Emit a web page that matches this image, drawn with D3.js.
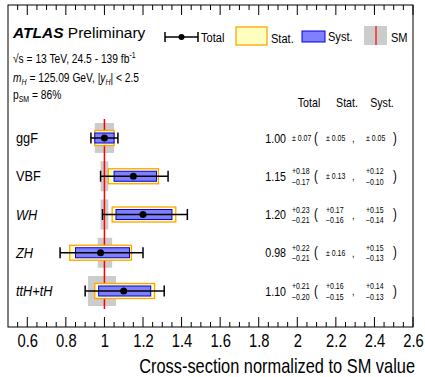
<!DOCTYPE html>
<html><head><meta charset="utf-8">
<script src="https://cdn.jsdelivr.net/npm/d3@7"></script>
<style>body{margin:0;background:#fff}svg{display:block;font-family:"Liberation Sans",Arial,sans-serif}</style>
</head><body><svg id="c" width="425" height="377"></svg>
<script>
const categories = ["ggF","VBF","WH","ZH","ttH+tH"];
const italicCat = [false,false,true,true,true];
const central = [1.00,1.15,1.20,0.98,1.10];
const totUp = [0.07,0.18,0.23,0.22,0.21];
const totDn = [0.07,0.17,0.21,0.21,0.20];
const statUp = [0.05,0.13,0.17,0.16,0.16];
const statDn = [0.05,0.13,0.16,0.16,0.15];
const systUp = [0.05,0.12,0.15,0.15,0.14];
const systDn = [0.05,0.10,0.14,0.13,0.13];
const smUp = [0.05,0.02,0.02,0.04,0.06];
const smDn = [0.05,0.02,0.02,0.035,0.085];
const xTicks = [0.6,0.8,1,1.2,1.4,1.6,1.8,2,2.2,2.4,2.6];

const SX = 0.82; // condensed text factor
const svg = d3.select("#c");
const L=8,R=413,T=5,B=327;
const x = d3.scaleLinear().domain([0.5,2.6]).range([L,R]);
const y = d3.scalePoint().domain(categories).range([138,291]);

function nt(px,py,size,anchor,sx){
  return svg.append("text").attr("transform",`translate(${px},${py}) scale(${sx||SX},1)`)
    .attr("font-size",size).attr("text-anchor",anchor||"start");
}

svg.append("rect").attr("x",L).attr("y",T).attr("width",R-L).attr("height",B-T).attr("fill","none").attr("stroke","#000").attr("stroke-width",1);

const minor = d3.range(0.55,2.6001,0.05).map(v=>+v.toFixed(2));
minor.forEach(v=>{
  const isMajor = Math.abs(v*5-Math.round(v*5))<1e-6;
  const len = isMajor?10:5;
  svg.append("line").attr("x1",x(v)).attr("x2",x(v)).attr("y1",B).attr("y2",B-len).attr("stroke","#000");
  svg.append("line").attr("x1",x(v)).attr("x2",x(v)).attr("y1",T).attr("y2",T+len).attr("stroke","#000");
});
const ax = svg.append("g").attr("transform",`translate(0,${B})`).call(d3.axisBottom(x).tickValues(xTicks).tickSize(0).tickPadding(7).tickFormat(d3.format("~g")));
ax.select(".domain").remove();
ax.selectAll("text").attr("font-size",18).attr("font-family","Liberation Sans, Arial, sans-serif").attr("fill","#000").attr("transform",`scale(${SX},1)`);

nt(415,373,20,"end").text("Cross-section normalized to SM value");

categories.forEach((c,i)=>{
  svg.append("rect").attr("x",x(1-smDn[i])).attr("width",x(1+smUp[i])-x(1-smDn[i])).attr("y",y(c)-15).attr("height",30).attr("fill","#cccccc");
});
svg.append("line").attr("x1",x(1)).attr("x2",x(1)).attr("y1",119).attr("y2",309).attr("stroke","#ff0000").attr("stroke-width",1.5);

categories.forEach((c,i)=>{
  const cy=y(c);
  svg.append("rect").attr("x",x(central[i]-statDn[i])).attr("width",x(central[i]+statUp[i])-x(central[i]-statDn[i])).attr("y",cy-7.5).attr("height",15).attr("fill","#ffffc0").attr("stroke","#ffa500").attr("stroke-width",1.3);
  svg.append("rect").attr("x",x(central[i]-systDn[i])).attr("width",x(central[i]+systUp[i])-x(central[i]-systDn[i])).attr("y",cy-5).attr("height",10).attr("fill","#8080ff").attr("stroke","#0000e0").attr("stroke-width",1);
  const x1=x(central[i]-totDn[i]), x2=x(central[i]+totUp[i]);
  svg.append("line").attr("x1",x1).attr("x2",x2).attr("y1",cy).attr("y2",cy).attr("stroke","#000").attr("stroke-width",1.5);
  [x1,x2].forEach(xx=>svg.append("line").attr("x1",xx).attr("x2",xx).attr("y1",cy-5.5).attr("y2",cy+5.5).attr("stroke","#000").attr("stroke-width",1.5));
  svg.append("circle").attr("cx",x(central[i])).attr("cy",cy).attr("r",3.5).attr("fill","#000");
  nt(16,cy+5,15,"start",0.85).attr("font-style",italicCat[i]?"italic":"normal").text(c);
  nt(286,cy+4.5,13,"end").text(central[i].toFixed(2));
  const err=(xx,up,dn)=>{
    if(Math.abs(up-dn)<1e-9){
      nt(xx,cy+3,8.5).text("± "+up.toFixed(2));
    } else {
      nt(xx,cy-2,8.5).text("+"+up.toFixed(2));
      nt(xx,cy+8.5,8.5).text("\u2212"+dn.toFixed(2));
    }
  };
  err(292,totUp[i],totDn[i]);
  nt(314,cy+4.5,14).text("(");
  err(326,statUp[i],statDn[i]);
  nt(352,cy+4,11).text(",");
  err(366,systUp[i],systDn[i]);
  nt(393,cy+4.5,14).text(")");
});

[["Total",309],["Stat.",347],["Syst.",382]].forEach(([t,xx])=>nt(xx,107,13,"middle").text(t));

const at = svg.append("text").attr("x",13).attr("y",38).attr("font-size",15.5);
at.append("tspan").attr("font-weight","bold").attr("font-style","italic").text("ATLAS");
at.append("tspan").text(" Preliminary");
const l1 = nt(13,63,12.5);
l1.append("tspan").text("\u221As = 13 TeV, 24.5 - 139 fb");
l1.append("tspan").attr("font-size",8.5).attr("dy",-5).text("-1");
const l2 = nt(13,82,12.5);
l2.append("tspan").attr("font-style","italic").text("m");
l2.append("tspan").attr("font-size",8.5).attr("dy",3).attr("font-style","italic").text("H");
l2.append("tspan").attr("dy",-3).text(" = 125.09 GeV, |");
l2.append("tspan").attr("font-style","italic").text("y");
l2.append("tspan").attr("font-size",8.5).attr("dy",3).attr("font-style","italic").text("H");
l2.append("tspan").attr("dy",-3).text("| < 2.5");
const l3 = nt(13,99,12.5);
l3.append("tspan").text("p");
l3.append("tspan").attr("font-size",8.5).attr("dy",3).text("SM");
l3.append("tspan").attr("dy",-3).text(" = 86%");

const ly=37;
svg.append("line").attr("x1",165).attr("x2",198).attr("y1",ly).attr("y2",ly).attr("stroke","#000").attr("stroke-width",1.5);
[165,198].forEach(xx=>svg.append("line").attr("x1",xx).attr("x2",xx).attr("y1",ly-5).attr("y2",ly+5).attr("stroke","#000").attr("stroke-width",1.5));
svg.append("circle").attr("cx",181.5).attr("cy",ly).attr("r",3).attr("fill","#000");
nt(201,ly+5,13.5).text("Total");
svg.append("rect").attr("x",236).attr("y",27).attr("width",31).attr("height",18).attr("fill","#ffffc0").attr("stroke","#ffa500").attr("stroke-width",1.3);
nt(271,ly+6,13.5).text("Stat.");
svg.append("rect").attr("x",302).attr("y",31).attr("width",23).attr("height",11).attr("fill","#8080ff").attr("stroke","#0000e0").attr("stroke-width",1);
nt(328,ly+4,13.5).text("Syst.");
svg.append("rect").attr("x",364).attr("y",26).attr("width",23).attr("height",19).attr("fill","#cccccc");
svg.append("line").attr("x1",376).attr("x2",376).attr("y1",26).attr("y2",45).attr("stroke","#ff0000").attr("stroke-width",1.2);
nt(391,ly+5,13.5).text("SM");
</script></body></html>
